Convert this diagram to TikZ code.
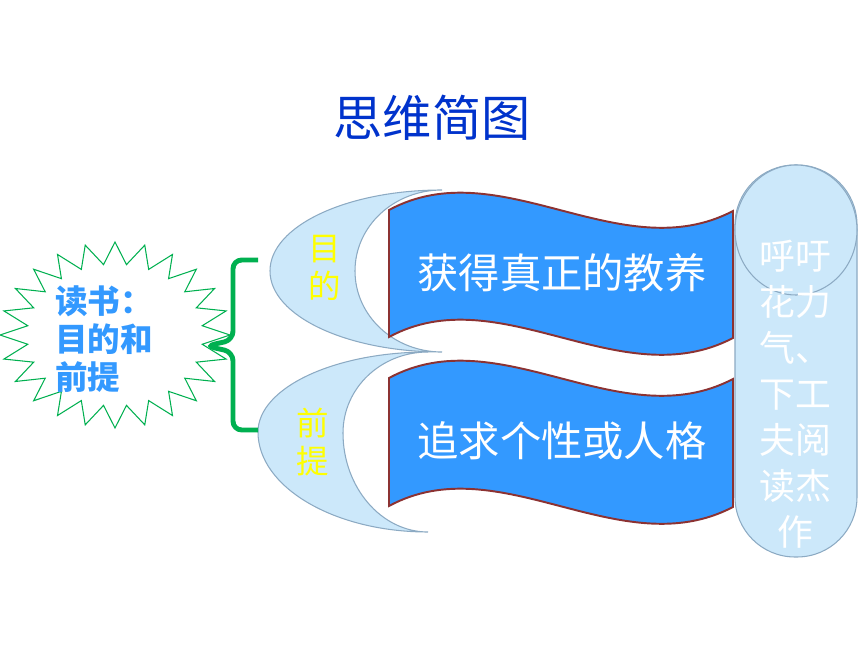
\documentclass[tikz,border=0pt]{standalone}
\usepackage{fontspec}
\setmainfont{Noto Sans CJK SC}
\usepackage{tikz}

\definecolor{titleblue}{RGB}{0,51,204}
\definecolor{starblue}{RGB}{51,153,255}
\definecolor{stargreen}{RGB}{0,176,80}
\definecolor{paleblue}{RGB}{204,232,250}
\definecolor{paleedge}{RGB}{140,170,195}
\definecolor{bannerblue}{RGB}{51,153,255}
\definecolor{banneredge}{RGB}{140,50,50}
\definecolor{markyellow}{RGB}{255,255,0}

\begin{document}
\begin{tikzpicture}[x=0.02cm, y=-0.02cm,
  burst/.style={draw=stargreen, line width=0.6pt, fill=white},
  bracket/.style={draw=stargreen, line width=2.8pt, rounded corners=5pt},
  crescent/.style={draw=paleedge, line width=0.6pt, fill=paleblue},
  banner/.style={draw=banneredge, line width=1.1pt, fill=bannerblue},
  pill/.style={draw=paleedge, line width=0.6pt, fill=paleblue},
  bannertext/.style={text=white, font=\fontsize{23.5}{28}\selectfont, inner sep=0pt},
  marktext/.style={text=markyellow, font=\fontsize{18.5}{22}\selectfont, align=center, inner sep=0pt},
]
  \useasboundingbox[fill=white] (0,0) rectangle (860,645);

  % Title
  \node[text=titleblue, font=\fontsize{28}{33}\selectfont, inner sep=0pt] (title) at (432,118) {思维简图};

  % Crescents behind the banners
  \draw[crescent] (442,190) .. controls (347,190) and (270,226) .. (270,271)
    .. controls (270,316) and (347,352) .. (442,352)
    .. controls (394,352) and (355,316) .. (355,271)
    .. controls (355,226) and (394,190) .. (442,190) -- cycle;
  \draw[crescent] (428,352) .. controls (334,352) and (258,388) .. (258,432)
    .. controls (258,487) and (334,532) .. (428,532)
    .. controls (381,532) and (343,487) .. (343,433)
    .. controls (343,388) and (381,352) .. (428,352) -- cycle;
  \node[marktext] (goal) at (325,268) {目\\的};
  \node[marktext] (premise) at (313,442) {前\\提};

  % Wave banners
  \draw[banner] (389,210) .. controls (500,150) and (620,270) .. (733,211)
    -- (733,338) .. controls (620,397) and (500,277) .. (389,337) -- cycle;
  \draw[banner] (389,378) .. controls (500,318) and (620,438) .. (733,379)
    -- (733,507) .. controls (620,566) and (500,446) .. (389,506) -- cycle;
  \node[bannertext] (cultivation) at (562,273) {获得真正的教养};
  \node[bannertext] (personality) at (562,441) {追求个性或人格};

  % Side pill with its top circle
  \draw[pill, rounded corners=1.2cm] (735,165) rectangle (857,557);
  \draw[pill] (796,230) ellipse [x radius=61, y radius=65];
  \node[text=white, font=\fontsize{20.4}{26.2}\selectfont, align=center, inner sep=0pt]
    (reading) at (795,394) {呼吁\\花力\\气、\\下工\\夫阅\\读杰\\作};

  % Starburst note
  \draw[burst] (230,335) \foreach \a in {0,15,...,345} {
      -- ({115+115*cos(\a)},{335-93*sin(\a)})
      -- ({115+88*cos(\a+7.5)},{335-71*sin(\a+7.5)}) } -- cycle;
  \node[text=starblue, font=\bfseries\fontsize{18.5}{21.5}\selectfont, align=left,
        inner sep=0pt, anchor=west] (note) at (55,339) {读书：\\目的和\\前提};

  % Bracket
  \draw[bracket] (258,260) -- (233,260) -- (233,340) -- (206,346)
    -- (233,352) -- (233,430) -- (258,430);
\end{tikzpicture}
\end{document}
